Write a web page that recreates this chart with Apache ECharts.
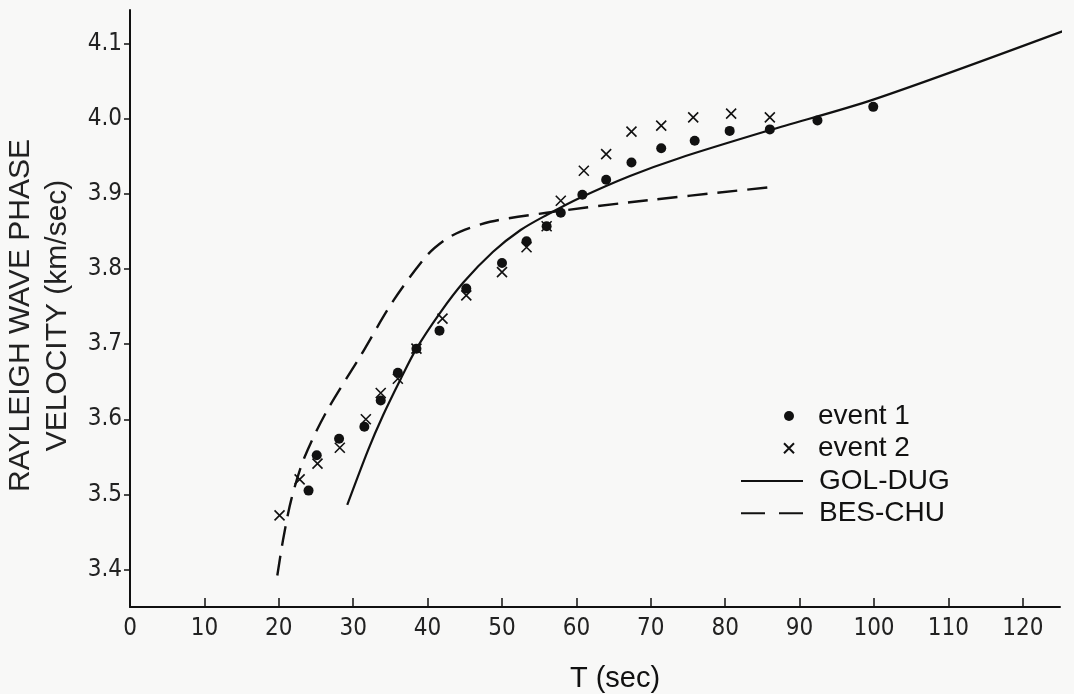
<!DOCTYPE html>
<html>
<head>
<meta charset="utf-8">
<title>Rayleigh wave phase velocity</title>
<script src="https://cdn.jsdelivr.net/npm/echarts@6/dist/echarts.min.js"></script>
<style>
  html, body { margin: 0; padding: 0; background: #f8f8f7; }
  #chart { width: 1074px; height: 694px; }
</style>
</head>
<body>
<div id="chart"></div>
<script>
// period T (sec), phase velocity (km/sec)
const event1 = [
  [24.0, 3.505], [25.1, 3.552], [28.1, 3.574], [31.5, 3.590], [33.7, 3.625],
  [36.0, 3.662], [38.5, 3.694], [41.6, 3.718], [45.2, 3.774], [50.0, 3.808],
  [53.3, 3.837], [56.0, 3.857], [57.9, 3.875], [60.8, 3.899], [64.0, 3.919],
  [67.4, 3.942], [71.4, 3.961], [75.9, 3.971], [80.6, 3.984], [86.0, 3.986],
  [92.4, 3.998], [99.9, 4.016]
];
const event2 = [
  [20.1, 3.472], [22.8, 3.520], [25.2, 3.541], [28.2, 3.562], [31.7, 3.600],
  [33.7, 3.635], [36.0, 3.654], [38.5, 3.694], [42.0, 3.734], [45.2, 3.765],
  [50.0, 3.796], [53.3, 3.829], [56.0, 3.857], [57.9, 3.891], [61.0, 3.931],
  [64.0, 3.953], [67.4, 3.983], [71.4, 3.991], [75.7, 4.002], [80.8, 4.007],
  [86.0, 4.002]
];
const golDug = [
  [29.2, 3.486], [32.0, 3.559], [34.0, 3.605], [36.3, 3.652], [38.5, 3.694],
  [41.7, 3.742], [44.8, 3.782], [48.8, 3.823], [52.5, 3.852], [56.0, 3.872],
  [60.5, 3.895], [67.2, 3.924], [73.9, 3.948], [86.0, 3.985], [100.0, 4.026],
  [125.7, 4.118]
];
const besChu = [
  [19.8, 3.392], [20.6, 3.441], [21.7, 3.494], [23.4, 3.548], [26.4, 3.610],
  [30.9, 3.683], [35.4, 3.758], [39.9, 3.818], [42.2, 3.838], [44.4, 3.850],
  [48.4, 3.863], [56.0, 3.875], [67.2, 3.889], [86.0, 3.909]
];
const xTicks = [0, 10, 20, 30, 40, 50, 60, 70, 80, 90, 100, 110, 120];
const yTicks = [3.4, 3.5, 3.6, 3.7, 3.8, 3.9, 4.0, 4.1];

const ink = '#111';
const tickFont = "'Liberation Sans Narrow', 'DejaVu Sans Condensed', 'Liberation Sans', sans-serif";
const textFont = "'Liberation Sans', 'DejaVu Sans', sans-serif";
const cross = 'path://M0,0L10,10M10,0L0,10';

const chart = echarts.init(document.getElementById('chart'));

chart.setOption({
  backgroundColor: '#f8f8f7',
  animation: false,
  grid: { left: 130, right: 14, top: 10, bottom: 87, outerBoundsMode: 'none' },
  legend: [
    {
      data: ['event 1', 'event 2'],
      orient: 'vertical',
      left: 778, top: 396,
      itemWidth: 10, itemHeight: 10, itemGap: 2.3,
      textStyle: { fontFamily: textFont, fontSize: 28, color: ink, lineHeight: 30, padding: [0, 0, 0, 19] }
    },
    {
      data: ['GOL-DUG', { name: 'BES-CHU', lineStyle: { type: [24, 14] } }],
      orient: 'vertical',
      left: 735, top: 461,
      itemWidth: 62, itemHeight: 10, itemGap: 2.3,
      itemStyle: { opacity: 0 },
      textStyle: { fontFamily: textFont, fontSize: 28, color: ink, lineHeight: 30, padding: [0, 0, 0, 11] }
    }
  ],
  xAxis: {
    type: 'value',
    min: 0, max: 125,
    name: 'T (sec)',
    nameLocation: 'middle',
    nameGap: 57,
    nameTextStyle: { fontFamily: textFont, fontSize: 29, color: ink, padding: [0, 0, 0, 40] },
    axisLine: { lineStyle: { color: ink, width: 2 } },
    axisTick: { inside: true, length: 9, lineStyle: { color: ink, width: 1.5 }, customValues: xTicks },
    axisLabel: { color: '#222', fontFamily: tickFont, fontSize: 24, margin: 10, customValues: xTicks },
    splitLine: { show: false }
  },
  yAxis: {
    type: 'value',
    min: 3.35, max: 4.145,
    name: 'RAYLEIGH WAVE PHASE\nVELOCITY (km/sec)',
    nameLocation: 'middle',
    nameRotate: 90,
    nameGap: 54,
    nameTextStyle: { fontFamily: textFont, fontSize: 30, color: '#222', lineHeight: 37, padding: [0, 14, 0, 0] },
    axisLine: { lineStyle: { color: ink, width: 2 } },
    axisTick: { length: 6, lineStyle: { color: ink, width: 1.5 }, customValues: yTicks },
    axisLabel: {
      color: '#222', fontFamily: tickFont, fontSize: 24, margin: 8,
      customValues: yTicks,
      formatter: v => v.toFixed(1)
    },
    splitLine: { show: false }
  },
  series: [
    {
      name: 'event 1',
      type: 'scatter',
      data: event1,
      symbol: 'circle',
      symbolSize: 10,
      itemStyle: { color: ink, opacity: 1 }
    },
    {
      name: 'event 2',
      type: 'scatter',
      data: event2,
      symbol: cross,
      symbolSize: 10,
      itemStyle: { color: 'rgba(0,0,0,0)', borderColor: ink, borderWidth: 1.6, opacity: 1 }
    },
    {
      name: 'GOL-DUG',
      type: 'line',
      data: golDug,
      symbol: 'none',
      smooth: 0.3,
      itemStyle: { color: ink },
      lineStyle: { color: ink, width: 2.2 }
    },
    {
      name: 'BES-CHU',
      type: 'line',
      data: besChu,
      symbol: 'none',
      smooth: 0.3,
      itemStyle: { color: ink },
      lineStyle: { color: ink, width: 2.4, type: [20, 10] }
    }
  ]
});
</script>
</body>
</html>
